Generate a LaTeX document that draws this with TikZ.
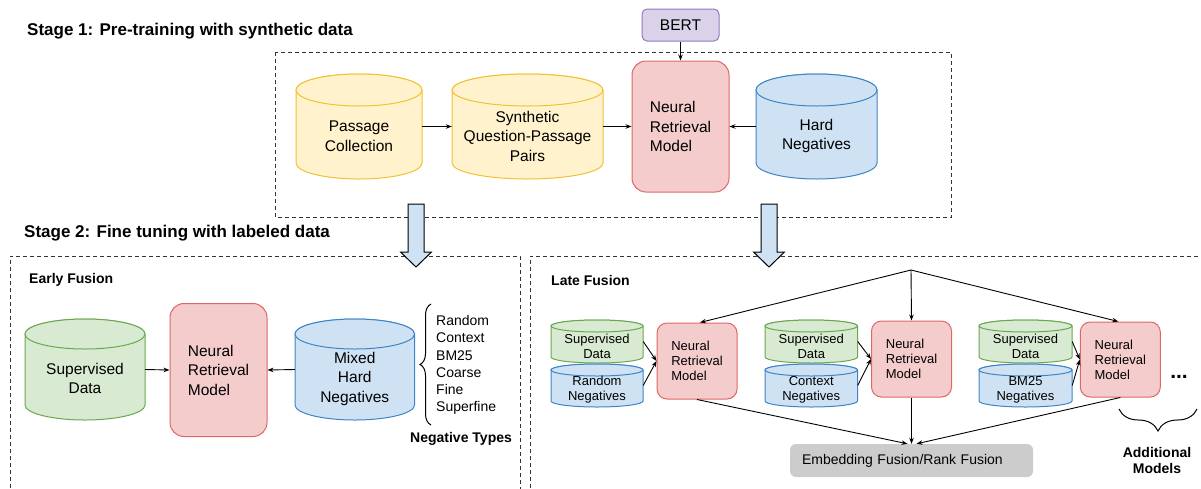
\documentclass[tikz,border=0pt]{standalone}
\usepackage{fontspec}
\setmainfont{Liberation Sans}
\usetikzlibrary{arrows.meta,decorations.pathreplacing,calc}
\definecolor{yelF}{HTML}{FFF2CC}
\definecolor{yelD}{HTML}{F1C232}
\definecolor{bluF}{HTML}{CFE2F3}
\definecolor{bluD}{HTML}{3D85C6}
\definecolor{grnF}{HTML}{D9EAD3}
\definecolor{grnD}{HTML}{6AA84F}
\definecolor{redF}{HTML}{F4CCCC}
\definecolor{redD}{HTML}{E06666}
\definecolor{purF}{HTML}{D9D2E9}
\definecolor{purD}{HTML}{8E7CC3}
\definecolor{gryF}{HTML}{CCCCCC}
\definecolor{dashC}{HTML}{333333}
\newcommand\drawcyl[9]{%
  \pgfmathsetmacro\cylcx{(#2+#4)/2}%
  \pgfmathsetmacro\cylrx{(#4-#2)/2}%
  \pgfmathsetmacro\cylcy{(#3+#5)/2}%
  \pgfmathsetmacro\cylty{#3+#6}%
  \pgfmathsetmacro\cylby{#5-#6}%
  \pgfmathsetmacro\cyltxt{(#3+#5)/2+#6/2+1.5}%
  \node[inner sep=0pt,minimum width={(#4-#2)*1pt},minimum height={(#5-#3)*1pt}] (#1) at (\cylcx,\cylcy) {};%
  \draw[#7] (#2,\cylty) -- (#2,\cylby) arc[start angle=180,end angle=0,x radius=\cylrx,y radius=#6] -- (#4,\cylty) arc[start angle=0,end angle=-180,x radius=\cylrx,y radius=#6] -- cycle;%
  \draw[#7] (\cylcx,\cylty) ellipse[x radius=\cylrx,y radius=#6];%
  \node[align=center,inner sep=0pt,#8] (#1-t) at (\cylcx,\cyltxt) {#9};%
}
\begin{document}
\begin{tikzpicture}[x=1pt,y=-1pt,
  fbig/.style={font=\fontsize{15.5}{19.5}\selectfont},
  fsmall/.style={font=\fontsize{13}{15}\selectfont},
  flist/.style={font=\fontsize{14}{17.2}\selectfont},
  titlef/.style={font=\bfseries\fontsize{17}{20}\selectfont},
  labf/.style={font=\bfseries\fontsize{14}{16}\selectfont},
  yelcyl/.style={draw=yelD,fill=yelF,line width=1pt},
  blucyl/.style={draw=bluD,fill=bluF,line width=1pt},
  grncyl/.style={draw=grnD,fill=grnF,line width=1pt},
  nrm/.style={draw=redD,fill=redF,line width=1pt,align=left,inner sep=0pt},
  conn/.style={draw=black,line width=0.9pt,-{Stealth[length=6pt,width=4.5pt]}},
  dashbox/.style={draw=dashC,line width=1pt,dash pattern=on 4pt off 3pt},
  blockarrow/.style={draw=black,fill=bluF,line width=1pt},
  bracef/.style={draw=black,line width=1pt,decorate,decoration={brace,amplitude=#1}}
]
\useasboundingbox (0,0) rectangle (1201,488);

% ---------- titles ----------
\node[titlef,anchor=west,inner sep=0pt] (s1) at (27,31) {Stage 1: Pre-training with synthetic data};
\node[titlef,anchor=west,inner sep=0pt] (s2) at (24,233) {Stage 2: Fine tuning with labeled data};

% ---------- dashed frames ----------
\draw[dashbox] (275.5,52) rectangle (951,217.5);
\draw[dashbox] (10,495) -- (10,256) -- (520,256) -- (520,495);
\draw[dashbox] (530,495) -- (530,256) -- (1210,256);

% ---------- stage 1 ----------
\node[draw=purD,fill=purF,line width=1pt,rounded corners=5pt,minimum width=77pt,minimum height=32pt,fbig] (bert) at (680.5,25) {BERT};
\drawcyl{pc}{296}{74}{422}{179}{16}{yelcyl}{fbig}{Passage\\Collection}
\drawcyl{sqp}{452}{74}{603}{179}{16}{yelcyl}{fbig}{Synthetic\\Question-Passage\\Pairs}
\node[nrm,rounded corners=14pt,minimum width=97pt,minimum height=131pt,fbig] (m1) at (680.5,126.5) {Neural\\Retrieval\\Model};
\drawcyl{hn}{756}{74}{877}{179}{16}{blucyl}{fbig}{Hard\\Negatives}
\draw[conn] (pc.east) -- (sqp.west);
\draw[conn] (sqp.east) -- (m1.west);
\draw[conn] (hn.west) -- (m1.east);
\draw[conn] (bert.south) -- (m1.north);

% ---------- block arrows ----------
\draw[blockarrow] (408,204) -- (424,204) -- (424,252) -- (431.5,252) -- (416,267) -- (400.5,252) -- (408,252) -- cycle;
\draw[blockarrow] (761,204) -- (777,204) -- (777,252) -- (784.5,252) -- (769,267) -- (753.5,252) -- (761,252) -- cycle;

% ---------- early fusion ----------
\node[labf,anchor=west,inner sep=0pt] (ef) at (29,280) {Early Fusion};
\drawcyl{sd}{25}{319}{145}{420}{15}{grncyl}{fbig}{Supervised\\Data}
\node[nrm,rounded corners=14pt,minimum width=97pt,minimum height=133pt,fbig] (m2) at (218.5,370) {Neural\\Retrieval\\Model};
\drawcyl{mhn}{295}{319}{414.5}{420}{15}{blucyl}{fbig}{Mixed\\Hard\\Negatives}
\draw[conn] (sd.east) -- (m2.west);
\draw[conn] (mhn.west) -- (m2.east);
\draw[bracef=11pt] (431,425) -- (431,304);
\node[flist,anchor=west,align=left,inner sep=0pt] (types) at (436,365) {Random\\Context\\BM25\\Coarse\\Fine\\Superfine};
\node[labf,anchor=west,inner sep=0pt] (nt) at (410,439) {Negative Types};

% ---------- late fusion ----------
\node[labf,anchor=west,inner sep=0pt] (lf) at (551,280) {Late Fusion};
\coordinate (top) at (911,270);

\drawcyl{g1}{551}{320}{643}{363}{6}{grncyl}{fsmall}{Supervised\\Data}
\drawcyl{b1}{551}{364}{643}{407}{6}{blucyl}{fsmall}{Random\\Negatives}
\node[nrm,rounded corners=10pt,minimum width=80pt,minimum height=76pt,fsmall] (n1) at (697,361) {Neural\\Retrieval\\Model};

\drawcyl{g2}{765}{320}{857.5}{363}{6}{grncyl}{fsmall}{Supervised\\Data}
\drawcyl{b2}{765}{364}{857.5}{407}{6}{blucyl}{fsmall}{Context\\Negatives}
\node[nrm,rounded corners=10pt,minimum width=80pt,minimum height=76pt,fsmall] (n2) at (911.5,359) {Neural\\Retrieval\\Model};

\drawcyl{g3}{979}{320}{1072}{363}{6}{grncyl}{fsmall}{Supervised\\Data}
\drawcyl{b3}{979}{364}{1072}{407}{6}{blucyl}{fsmall}{BM25\\Negatives}
\node[nrm,rounded corners=10pt,minimum width=80pt,minimum height=75pt,fsmall] (n3) at (1120.3,359.5) {Neural\\Retrieval\\Model};

\node[fill=gryF,rounded corners=6pt,text width=219pt,inner xsep=12pt,inner ysep=0pt,minimum height=33pt,align=left,flist] (emb) at (911.5,460.5) {Embedding Fusion/Rank Fusion};

\draw[conn] (g1.east) -- (n1.west);
\draw[conn] (b1.east) -- (n1.west);
\draw[conn] (g2.east) -- (n2.west);
\draw[conn] (b2.east) -- (n2.west);
\draw[conn] (g3.east) -- (n3.west);
\draw[conn] (b3.east) -- (n3.west);

\draw[conn] (top) -- ([xshift=3pt]n1.north);
\draw[conn] (top) -- (n2.north);
\draw[conn] (top) -- ([xshift=-2pt]n3.north);
\draw[conn] (n1.south) -- ([xshift=-4pt]emb.north);
\draw[conn] (n2.south) -- (emb.north);
\draw[conn] (n3.south) -- ([xshift=5pt]emb.north);

\node[font=\bfseries\fontsize{21}{24}\selectfont,inner sep=0pt] (dots) at (1179,377) {...};
\draw[bracef=22pt] (1197,409) -- (1119,409);
\node[labf,align=center,inner sep=0pt] (am) at (1157,460) {Additional\\Models};
\end{tikzpicture}
\end{document}
